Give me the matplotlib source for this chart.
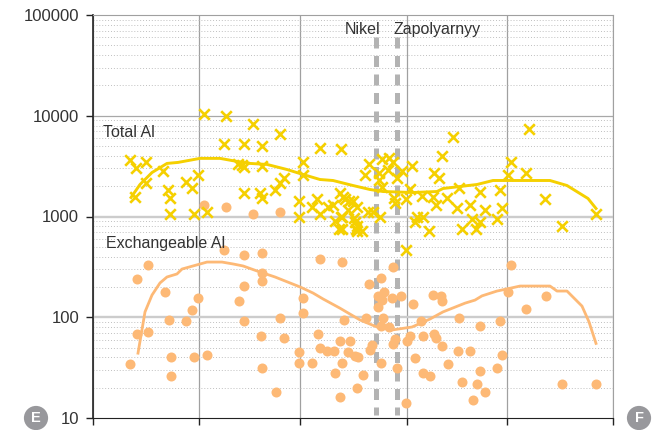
import matplotlib
matplotlib.use('Agg')
import matplotlib.pyplot as plt

plt.rcParams['font.family'] = ['Liberation Sans', 'DejaVu Sans']

# x is distance along the transect (no labels on that axis), y is concentration
total_x = [130, 136, 146, 135, 146, 163, 168, 170, 170, 186, 192, 198, 194, 207, 204, 226, 253, 280,
           224, 244, 262, 320, 341, 242, 238, 244, 262, 303, 303, 284, 280, 275, 244, 260, 262, 299,
           299, 317, 312, 320, 328, 333, 340, 345, 353, 348, 341, 335, 339, 355, 356, 357,
           529, 453, 442, 511, 508, 526, 434, 439, 412, 402, 393, 389, 382, 369, 365, 379, 379, 382,
           388, 397, 410, 406, 394, 395, 422, 433, 436, 447, 459, 480, 500, 470, 457, 485, 502, 497,
           472, 480, 476, 462, 429, 423, 417, 415, 406, 545, 562, 596, 380, 373, 368, 349, 343, 342,
           354, 357, 362, 357, 342]
total_y = [3604, 2996, 3442, 1544, 2126, 2861, 1853, 1509, 1047, 2176, 1940, 2553, 1047, 1096, 10295, 9834,
           8188, 6662, 5189, 5189, 4955, 4733, 4625, 3211, 3286, 3066, 3138, 3442, 2553, 2438, 2126, 1853,
           1692, 1692, 1509, 1409, 1000, 1475, 1256, 1047, 1256, 1315, 1692, 1475, 1409, 1173, 1000, 912,
           743, 892, 743, 1256,
           7460, 6086, 3953, 3442, 2553, 2733, 2733, 2438, 3138, 2861, 3442, 3775, 3688, 3286, 2553, 2733,
           2329, 1985, 2927, 2438, 1896, 1475, 1509, 1377, 1580, 1544, 1315, 1509, 1940, 1770, 1853, 1315,
           1201, 1147, 1201, 955, 955, 872, 760, 760, 726, 1000, 1000, 892, 460, 1475, 796, 1047, 1000,
           1121, 1096, 1409, 1544, 1000, 977, 796, 726, 710, 743]

exch_x = [148, 137, 165, 198, 192, 186, 169, 148, 137, 171, 194, 207, 130, 171, 224, 244, 262, 262,
          262, 244, 239, 244, 261, 284, 280, 303, 303, 320, 342, 344, 318, 340, 350, 320, 327, 334,
          348, 355, 299, 299, 312, 342, 335, 262, 276, 340, 357, 204, 226, 253, 280,
          393, 381, 369, 384, 378, 382, 392, 401, 378, 413, 433, 441, 442, 511, 508, 546, 526, 459,
          421, 500, 480, 366, 383, 381, 389, 423, 434, 436, 410, 407, 395, 393, 442, 372, 370, 458,
          470, 502, 358, 415, 381, 448, 397, 497, 480, 423, 430, 363, 462, 477, 562, 596, 485, 473, 406]
exch_y = [330, 240, 178, 155, 118, 92, 94, 71, 68, 40, 40, 42, 34, 26, 465, 415, 434, 275,
          229, 204, 145, 92, 65, 62, 98, 155, 110, 379, 353, 94, 68, 58, 58, 50, 46, 46,
          45, 41, 45, 35, 35, 35, 28, 31, 18, 16, 20, 1315, 1256, 1047, 1096,
          315, 245, 214, 178, 163, 148, 155, 163, 126, 135, 166, 163, 145, 330, 178, 163, 121, 98,
          92, 92, 82, 98, 98, 82, 80, 65, 68, 62, 65, 58, 61, 54, 52, 53, 47, 46,
          46, 42, 40, 39, 35, 34, 31, 31, 29, 28, 26, 27, 23, 22, 22, 22, 18, 15, 14]

total_line_x = [131, 140, 152, 167, 178, 200, 220, 237, 250, 267, 287, 303, 320, 333, 353, 370, 383, 413,
                437, 443, 460, 477, 493, 550, 567, 588, 596]
total_line_y = [1544, 2078, 2733, 3364, 3442, 3775, 3775, 3520, 3364, 3286, 2927, 2612, 2329, 2277, 2030,
                1853, 1770, 1730, 1770, 1896, 1985, 2078, 2277, 2277, 2030, 1509, 1201]

exch_line_x = [138, 145, 152, 160, 167, 177, 182, 207, 222, 233, 243, 257, 275, 300, 313, 323, 340, 360,
               377, 393, 412, 430, 443, 465, 475, 482, 497, 507, 520, 550, 557, 567, 582, 589, 596]
exch_line_y = [44, 113, 166, 219, 251, 269, 301, 353, 353, 338, 323, 288, 251, 200, 174, 152, 123, 94,
               80, 75, 80, 96, 113, 138, 148, 163, 182, 191, 204, 204, 182, 182, 129, 90, 55]

town_x = [376, 397]
town_top = 60500
town_bottom = 10.7
x_ticks = [93, 199, 300, 407, 507, 613]

yellow = '#f5d000'
orange = '#fdb976'
text_col = '#333333'

fig = plt.figure(figsize=(6.62, 4.3), dpi=100)
ax = fig.add_axes([93 / 662, 1 - 418 / 430, 520 / 662, 403 / 430])

ax.set_yscale('log')
ax.set_xlim(93, 613)
ax.set_ylim(10, 100000)
ax.set_xticks(x_ticks)
ax.set_xticklabels([])
ax.set_yticks([10, 100, 1000, 10000, 100000])
ax.set_yticklabels(['10', '100', '1000', '10000', '100000'], fontsize=12, color=text_col)
ax.yaxis.set_minor_locator(matplotlib.ticker.LogLocator(base=10, subs=range(2, 10), numticks=12))
ax.yaxis.set_minor_formatter(matplotlib.ticker.NullFormatter())

# gridlines
ax.grid(True, axis='y', which='minor', color='#c0c0c0', linestyle=(0, (1, 2)), linewidth=0.7)
ax.grid(True, axis='x', which='major', color='#a0a0a0', linewidth=0.9)
ax.axhline(10000, color='#a8a8a8', linewidth=0.9, zorder=1)
for level in [100, 1000]:
    ax.axhline(level, color='#cccccc', linewidth=1.7, zorder=1)
ax.set_axisbelow(True)

ax.tick_params(axis='y', which='major', length=5, width=1, color='#222222', pad=5)
ax.tick_params(axis='y', which='minor', length=0)
ax.tick_params(axis='x', which='major', length=5, width=1, color='#222222')
ax.spines['top'].set_color('#a0a0a0')
ax.spines['right'].set_color('#a0a0a0')
ax.spines['left'].set_color('#222222')
ax.spines['left'].set_linewidth(1.2)
ax.spines['bottom'].set_color('#222222')

# town markers
for x in town_x:
    ax.plot([x, x], [town_top, town_bottom], color='#b3b3b3', linewidth=3.6,
            linestyle=(0, (2.2, 1.5)), dash_capstyle='butt', zorder=2)

ax.scatter(exch_x, exch_y, s=52, color=orange, linewidths=0, zorder=3)
ax.scatter(total_x, total_y, s=58, color=yellow, marker='x', linewidths=1.9, zorder=4)
ax.plot(exch_line_x, exch_line_y, color=orange, linewidth=2, zorder=5)
ax.plot(total_line_x, total_line_y, color=yellow, linewidth=2.1, zorder=5)

ax.text(103, 6150, 'Total Al', fontsize=11.5, color=text_col, va='baseline', ha='left', zorder=6)
ax.text(106, 486, 'Exchangeable Al', fontsize=11.5, color=text_col, va='baseline', ha='left', zorder=6)
ax.text(345, 64700, 'Nikel', fontsize=11.5, color=text_col, va='baseline', ha='left', zorder=6)
ax.text(393, 64700, 'Zapolyarnyy', fontsize=11.5, color=text_col, va='baseline', ha='left', zorder=6)

# panel letters
for label, x in [('E', 36 / 662), ('F', 639 / 662)]:
    fig.text(x, 1 - 418 / 430, label, fontsize=10.5, fontweight='bold', color='white', ha='center', va='center',
             bbox=dict(boxstyle='circle,pad=0.35', fc='#98989c', ec='none'))

fig.savefig('out.png', dpi=100)
